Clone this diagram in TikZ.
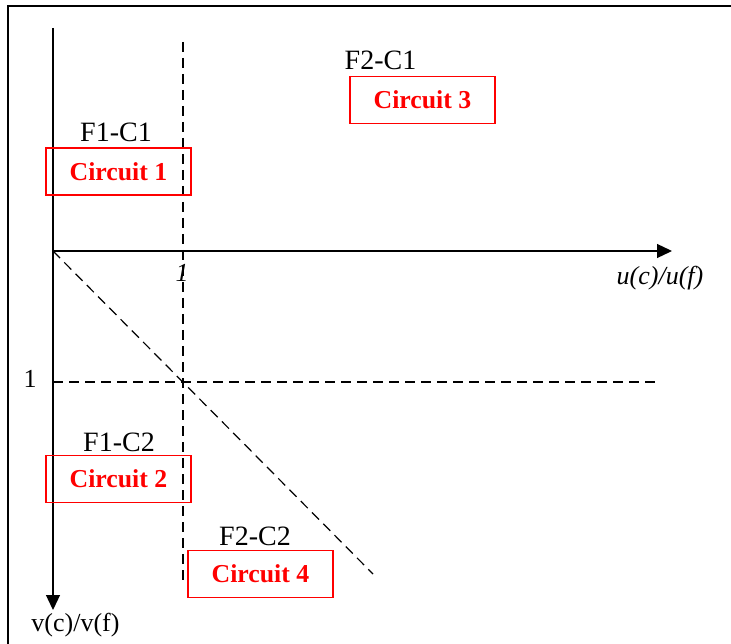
\documentclass[tikz,border=0pt]{standalone}
\usepackage{fontspec}
\setmainfont{Liberation Serif}
\usetikzlibrary{arrows.meta}

\tikzset{
    axis/.style={line width=1.3pt, -{Triangle[length=15pt, width=14pt]}},
    guide/.style={line width=1.2pt, dash pattern=on 10pt off 6pt},
    zone/.style={font=\fontsize{28}{32}\selectfont, anchor=base},
    circbox/.style={draw=red, line width=1.3pt, text=red, minimum width=145pt, minimum height=47pt,
        inner sep=0pt, font=\fontsize{25.8}{30}\selectfont\bfseries},
    tick/.style={font=\fontsize{26}{30}\selectfont, anchor=base}
}

\begin{document}
\begin{tikzpicture}[x=1pt, y=-1pt, >=Stealth]
    \useasboundingbox (0,0) rectangle (731,644);
    % frame
    \draw[line width=1.5pt] (8,644) -- (8,6) -- (731,6);

    % axes
    \coordinate (origin) at (53,251);
    \coordinate (utop) at (53,28);
    \coordinate (uend) at (672,251);
    \coordinate (vend) at (53,610);
    \draw[axis] (origin) -- (uend);
    \draw[axis] (utop) -- (vend);

    % guides
    \coordinate (vtop) at (183,42);
    \coordinate (vbot) at (183,582);
    \coordinate (hleft) at (53,382);
    \coordinate (hright) at (655,382);
    \coordinate (dend) at (373,574);
    \draw[guide] (vtop) -- (vbot);
    \draw[guide] (hleft) -- (hright);
    \draw[guide] (origin) -- (dend);

    % axis labels
    \node[tick] (uone) at (182,282) {\itshape 1};
    \node[tick] (vone) at (30,387) {1};
    \node[tick] (ulabel) at (660,285) {\itshape u(c)/u(f)};
    \node[tick] (vlabel) at (75.5,631) {v(c)/v(f)};

    % zones
    \node[zone] (f1c1) at (116,142) {F1-C1};
    \node[circbox] (circ1) at (118.5,171.5) {Circuit 1};
    \node[zone] (f2c1) at (380.5,70) {F2-C1};
    \node[circbox] (circ3) at (422.5,99.7) {Circuit 3};
    \node[zone] (f1c2) at (119,451) {F1-C2};
    \node[circbox] (circ2) at (118.5,479) {Circuit 2};
    \node[zone] (f2c2) at (255,545) {F2-C2};
    \node[circbox] (circ4) at (260.5,574) {Circuit 4};
\end{tikzpicture}
\end{document}
